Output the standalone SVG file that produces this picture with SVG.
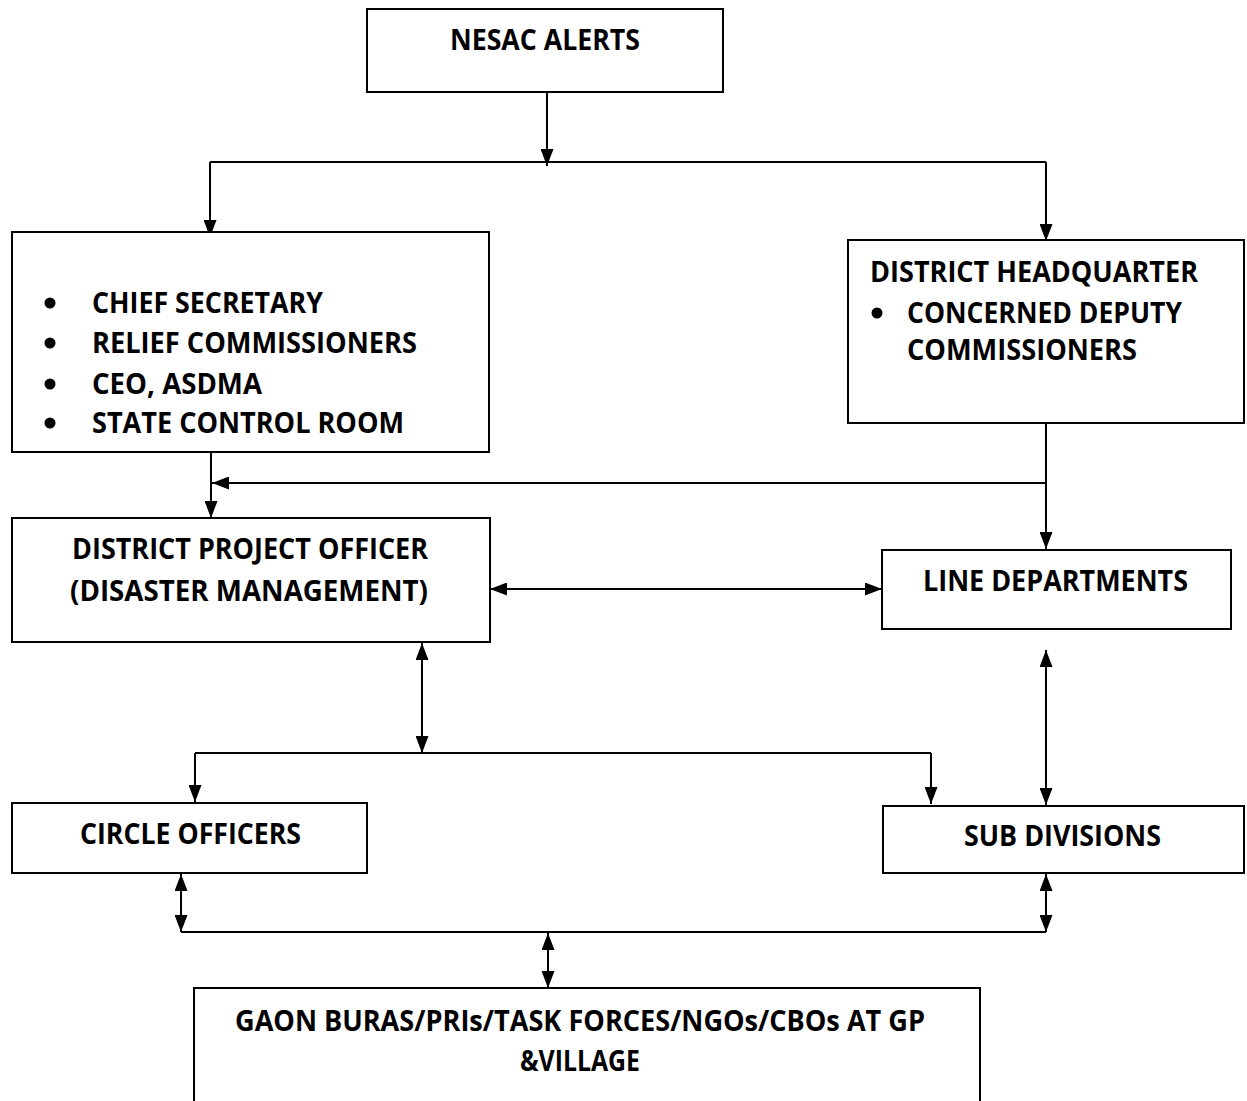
<svg xmlns="http://www.w3.org/2000/svg" width="1247" height="1101" viewBox="0 0 1247 1101">
<defs>
<marker id="ah" viewBox="0 0 17 13" refX="17" refY="6.5" markerWidth="17" markerHeight="13" markerUnits="userSpaceOnUse" orient="auto-start-reverse">
<path d="M0,0 L17,6.5 L0,13 z" fill="#000"/>
</marker>
<style>
.box{fill:#fff;stroke:#000;stroke-width:2}
.t{font-family:"Open Sans","Noto Sans","Liberation Sans",sans-serif;font-weight:700;font-size:28px;fill:#000}
.c{fill:none;stroke:#000;stroke-width:2}
.a{marker-end:url(#ah)}
.d{marker-start:url(#ah);marker-end:url(#ah)}
</style>
</defs>
<rect width="1247" height="1101" fill="#fff"/>
<g id="connectors">
<path class="c" d="M210,162 H1046"/>
<path class="c a" d="M547,92 V166"/>
<path class="c a" d="M210,162 V237"/>
<path class="c a" d="M1046,162 V241"/>
<path class="c a" d="M211,452 V518"/>
<path class="c a" d="M1046,423 V549"/>
<path class="c a" d="M1046,483 H212"/>
<path class="c d" d="M490,589 H882"/>
<path class="c d" d="M422,643 V753"/>
<path class="c" d="M195,753 H931"/>
<path class="c a" d="M195,753 V802"/>
<path class="c a" d="M931,753 V804"/>
<path class="c d" d="M1046,650 V805"/>
<path class="c d" d="M181,874 V932"/>
<path class="c d" d="M1046,874 V932"/>
<path class="c" d="M181,932 H1046"/>
<path class="c d" d="M548,933 V988"/>
</g>
<g id="nesac">
<rect class="box" x="367" y="9" width="356" height="83"/>
<text class="t" x="450" y="50" textLength="190" lengthAdjust="spacingAndGlyphs">NESAC ALERTS</text>
</g>
<g id="state">
<rect class="box" x="12" y="232" width="477" height="220"/>
<circle cx="50" cy="303" r="5.5"/>
<circle cx="50" cy="343" r="5.5"/>
<circle cx="50" cy="384" r="5.5"/>
<circle cx="50" cy="423" r="5.5"/>
<text class="t" x="92" y="313" textLength="231" lengthAdjust="spacingAndGlyphs">CHIEF SECRETARY</text>
<text class="t" x="92" y="353" textLength="325" lengthAdjust="spacingAndGlyphs">RELIEF COMMISSIONERS</text>
<text class="t" x="92" y="394" textLength="170" lengthAdjust="spacingAndGlyphs">CEO, ASDMA</text>
<text class="t" x="92" y="433" textLength="312" lengthAdjust="spacingAndGlyphs">STATE CONTROL ROOM</text>
</g>
<g id="district-hq">
<rect class="box" x="848" y="240" width="396" height="183"/>
<text class="t" x="870" y="282" textLength="328" lengthAdjust="spacingAndGlyphs">DISTRICT HEADQUARTER</text>
<circle cx="877" cy="313" r="5.5"/>
<text class="t" x="907" y="323" textLength="275" lengthAdjust="spacingAndGlyphs">CONCERNED DEPUTY</text>
<text class="t" x="907" y="360" textLength="230" lengthAdjust="spacingAndGlyphs">COMMISSIONERS</text>
</g>
<g id="dpo">
<rect class="box" x="12" y="518" width="478" height="124"/>
<text class="t" x="72" y="559" textLength="356" lengthAdjust="spacingAndGlyphs">DISTRICT PROJECT OFFICER</text>
<text class="t" x="70" y="601" textLength="358" lengthAdjust="spacingAndGlyphs">(DISASTER MANAGEMENT)</text>
</g>
<g id="line-departments">
<rect class="box" x="882" y="550" width="349" height="79"/>
<text class="t" x="923" y="591" textLength="265" lengthAdjust="spacingAndGlyphs">LINE DEPARTMENTS</text>
</g>
<g id="circle-officers">
<rect class="box" x="12" y="803" width="355" height="70"/>
<text class="t" x="80" y="844" textLength="221" lengthAdjust="spacingAndGlyphs">CIRCLE OFFICERS</text>
</g>
<g id="sub-divisions">
<rect class="box" x="883" y="806" width="361" height="67"/>
<text class="t" x="964" y="846" textLength="197" lengthAdjust="spacingAndGlyphs">SUB DIVISIONS</text>
</g>
<g id="village">
<rect class="box" x="194" y="988" width="786" height="130"/>
<text class="t" x="235" y="1031" textLength="690" lengthAdjust="spacingAndGlyphs">GAON BURAS/PRIs/TASK FORCES/NGOs/CBOs AT GP</text>
<text class="t" x="520" y="1071" textLength="120" lengthAdjust="spacingAndGlyphs">&amp;VILLAGE</text>
</g>
</svg>
